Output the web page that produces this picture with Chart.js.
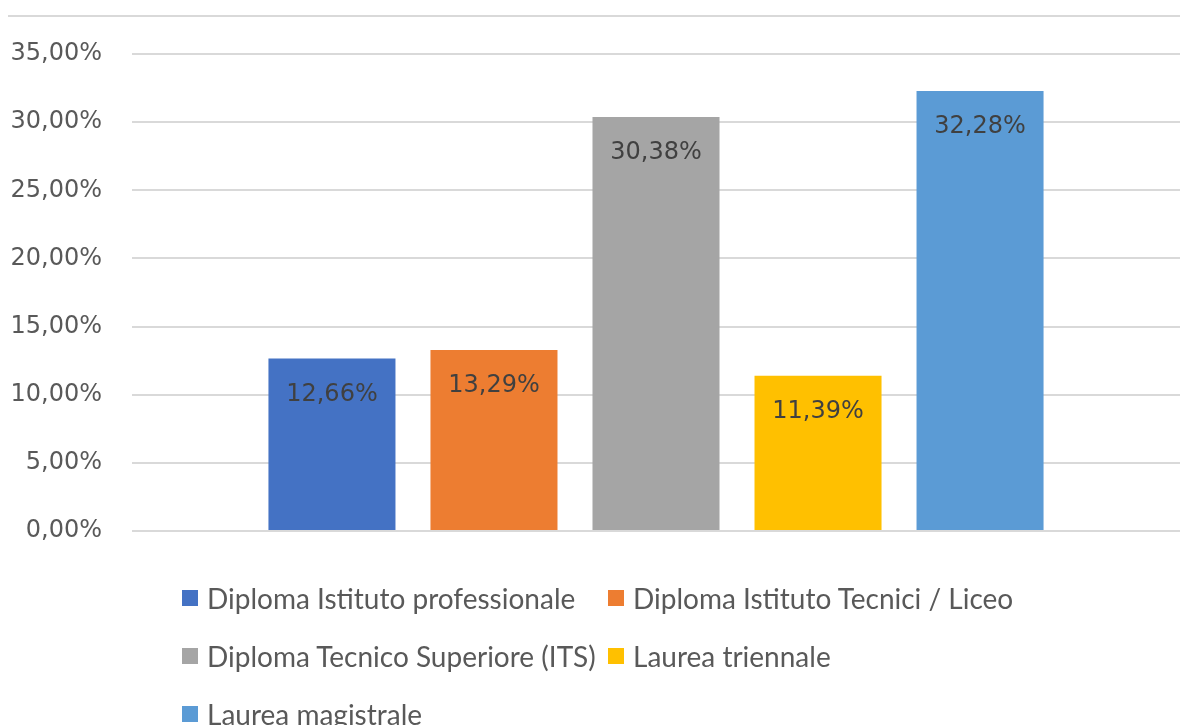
<!DOCTYPE html>
<html>
<head>
<meta charset="utf-8">
<script src="https://cdn.jsdelivr.net/npm/chart.js@4"></script>
<style>
  html, body { margin: 0; padding: 0; background: #fff; }
  #wrap { position: relative; width: 1180px; height: 725px; overflow: hidden; }
  #topline { position: absolute; left: 8px; right: 0; top: 15px; height: 2px; background: #d9d9d9; }
  #legend { position: absolute; left: 182px; top: 580px; display: grid; grid-template-columns: 426px auto;
    row-gap: 22px; font-family: Lato, sans-serif;
    font-size: 28px; color: #595959; }
  #legend .item { display: flex; align-items: center; white-space: nowrap; height: 36px; }
  #legend .box { width: 16px; height: 16px; margin-right: 9px; }
</style>
</head>
<body>
<div id="wrap">
  <canvas id="chart" width="1180" height="725"></canvas>
  <div id="topline"></div>
  <div id="legend"></div>
</div>
<script>
const seriesNames = [
  "Diploma Istituto professionale",
  "Diploma Istituto Tecnici / Liceo",
  "Diploma Tecnico Superiore (ITS)",
  "Laurea triennale",
  "Laurea magistrale"
];
const seriesValues = [12.66, 13.29, 30.38, 11.39, 32.28];
const seriesColors = ["#4472C4", "#ED7D31", "#A5A5A5", "#FFC000", "#5B9BD5"];
const categories = [""];

const fmt = (v) => v.toFixed(2).replace(".", ",") + "%";

// labels inside the top of each bar
const barLabels = {
  id: "barLabels",
  afterDatasetsDraw(chart) {
    const ctx = chart.ctx;
    ctx.save();
    ctx.font = "24px 'DejaVu Sans'";
    ctx.fillStyle = "#404040";
    ctx.textAlign = "center";
    ctx.textBaseline = "middle";
    chart.data.datasets.forEach((ds, i) => {
      chart.getDatasetMeta(i).data.forEach((bar, j) => {
        ctx.fillText(fmt(ds.data[j]), bar.x, bar.y + 36);
      });
    });
    ctx.restore();
  }
};

const chart = new Chart(document.getElementById("chart"), {
  type: "bar",
  data: {
    labels: categories,
    datasets: seriesNames.map((name, i) => ({
      label: name,
      data: [seriesValues[i]],
      backgroundColor: seriesColors[i],
      borderWidth: 0
    }))
  },
  options: {
    responsive: false,
    animation: false,
    layout: { padding: { top: 54, bottom: 186, left: 0, right: 0 } },
    datasets: { bar: { categoryPercentage: 0.773, barPercentage: 0.784 } },
    plugins: { legend: { display: false }, tooltip: { enabled: false } },
    scales: {
      x: {
        ticks: { display: false },
        grid: { display: false },
        border: { display: false }
      },
      y: {
        min: 0,
        max: 35,
        ticks: {
          stepSize: 5,
          padding: 30,
          color: "#595959",
          font: { family: "DejaVu Sans", size: 24 },
          callback: (v) => fmt(v)
        },
        grid: { color: "#d9d9d9", lineWidth: 2, drawTicks: false },
        border: { display: false },
        afterFit(scale) { scale.width = 132; }
      }
    }
  },
  plugins: [barLabels]
});

const legend = document.getElementById("legend");
chart.data.datasets.forEach((ds) => {
  const item = document.createElement("div");
  item.className = "item";
  const box = document.createElement("span");
  box.className = "box";
  box.style.background = ds.backgroundColor;
  item.appendChild(box);
  item.appendChild(document.createTextNode(ds.label));
  legend.appendChild(item);
});
</script>
</body>
</html>
